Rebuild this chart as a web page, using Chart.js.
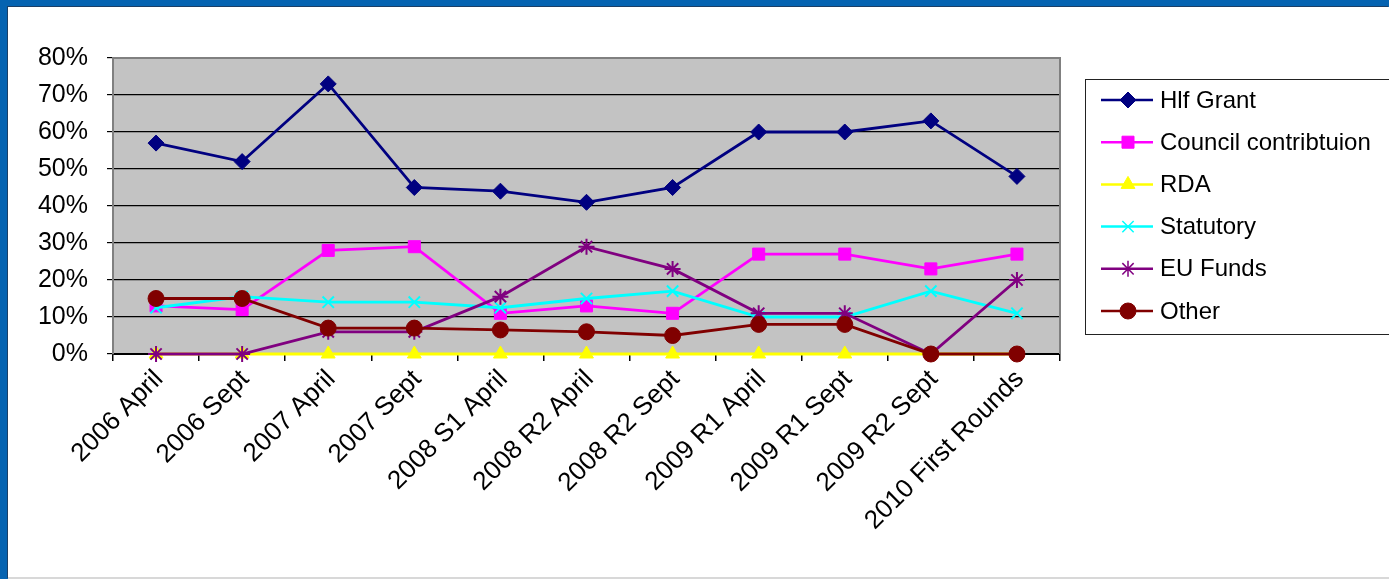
<!DOCTYPE html>
<html>
<head>
<meta charset="utf-8">
<script src="https://cdn.jsdelivr.net/npm/chart.js@4/dist/chart.umd.min.js"></script>
<style>
html,body{margin:0;padding:0;}
body{width:1389px;height:579px;background:#0563b1;position:relative;overflow:hidden;}
#box{position:absolute;left:8px;top:7px;width:1381px;height:570px;background:#fff;box-shadow:-1px -1px 0 #1b3f66;border-bottom:2px solid #d8d8d8;}
canvas{position:absolute;left:0;top:0;}
</style>
</head>
<body>
<div id="box"><canvas id="c" width="1381" height="572"></canvas></div>
<script>
// rounds
const rounds=["2006 April","2006 Sept","2007 April","2007 Sept","2008 S1 April","2008 R2 April","2008 R2 Sept","2009 R1 April","2009 R1 Sept","2009 R2 Sept","2010 First Rounds"];

// share of funding, %
const hlfGrant=[57,52,73,45,44,41,45,60,60,63,48];
const council=[13,12,28,29,11,13,11,27,27,23,27];
const rda=[0,0,0,0,0,0,0,0,0,0,0];
const statutory=[12.5,15.5,14,14,12.5,15,17,10,10,17,11];
const euFunds=[0,0,6,6,15.5,29,23,11,11,0,20];
const other=[15,15,7,7,6.5,6,5,8,8,0,0];

const yTicks=[0,10,20,30,40,50,60,70,80];

const FONT="'Liberation Sans', Arial, sans-serif";

const series=[
{label:"Hlf Grant",data:hlfGrant,color:"#000080",style:"rectRot",r:8},
{label:"Council contribtuion",data:council,color:"#ff00ff",style:"rect",r:8.5},
{label:"RDA",data:rda,color:"#ffff00",style:"triangle",r:8},
{label:"Statutory",data:statutory,color:"#00ffff",style:"crossRot",r:8},
{label:"EU Funds",data:euFunds,color:"#800080",style:"star",r:8},
{label:"Other",data:other,color:"#800000",style:"circle",r:8}
];

/* plot background + frame */
const plotBg={
id:"plotBg",
beforeDraw(ch){
let a=ch.chartArea,ctx=ch.ctx;
ctx.save();
ctx.fillStyle="#c3c3c3";
ctx.fillRect(a.left,a.top,a.right-a.left,a.bottom-a.top);
ctx.restore();
},
beforeDatasetsDraw(ch){
let a=ch.chartArea,ctx=ch.ctx;
ctx.save();
ctx.strokeStyle="#808080";
ctx.lineWidth=2;
ctx.beginPath();
ctx.moveTo(a.left,a.top);
ctx.lineTo(a.right,a.top);
ctx.lineTo(a.right,a.bottom);
ctx.stroke();
ctx.restore();
}
};

/* legend box like the original */
const boxLegend={
id:"boxLegend",
afterDraw(ch){
let ctx=ch.ctx;
ctx.save();
ctx.strokeStyle="#222";
ctx.lineWidth=1;
ctx.strokeRect(1077.5,72.5,320,255);
ctx.font="24px "+FONT;
ctx.textBaseline="middle";
series.forEach((s,i)=>{
let y=93+i*42.2;
ctx.strokeStyle=s.color;
ctx.lineWidth=2.5;
ctx.beginPath();
ctx.moveTo(1093,y);
ctx.lineTo(1145,y);
ctx.stroke();
ctx.fillStyle=s.color;
ctx.lineWidth=s.style==="star"||s.style==="crossRot"?1.5:1;
Chart.helpers.drawPoint(ctx,{pointStyle:s.style,radius:s.r,borderWidth:ctx.lineWidth,rotation:0},1120,y);
ctx.fillStyle="#000";
ctx.fillText(s.label,1152,y+1);
});
ctx.restore();
}
};

new Chart(document.getElementById("c"),{
type:"line",
data:{
labels:rounds,
datasets:series.map((s,i)=>({
label:s.label,
data:s.data,
borderColor:s.color,
backgroundColor:s.color,
borderWidth:2.8,
pointStyle:s.style,
pointRadius:s.r,
pointBorderWidth:s.style==="star"||s.style==="crossRot"?2:1,
pointBorderColor:s.color,
tension:0,
clip:false,
order:series.length-i
}))
},
options:{
responsive:false,
animation:false,
events:[],
layout:{padding:{top:51,right:329,left:0,bottom:0}},
plugins:{legend:{display:false},tooltip:{enabled:false}},
scales:{
x:{
offset:true,
grid:{offset:true,drawOnChartArea:false,drawTicks:true,tickLength:7,color:"#000",lineWidth:1.5},
border:{display:true,color:"#000",width:2},
ticks:{maxRotation:45,minRotation:45,autoSkip:false,color:"#000",font:{family:FONT,size:26},padding:3,labelOffset:3},
afterFit(sc){sc.height=225;}
},
y:{
min:0,max:80,
afterBuildTicks(sc){sc.ticks=yTicks.map(v=>({value:v}));},
grid:{color:"#000",lineWidth:1.2,drawTicks:true,tickLength:6},
border:{display:true,color:"#808080",width:2},
ticks:{color:"#000",font:{family:FONT,size:25},padding:19,callback:v=>v+"%"},
afterFit(sc){sc.width=105;}
}
}
},
plugins:[plotBg,boxLegend]
});
</script>
</body>
</html>
